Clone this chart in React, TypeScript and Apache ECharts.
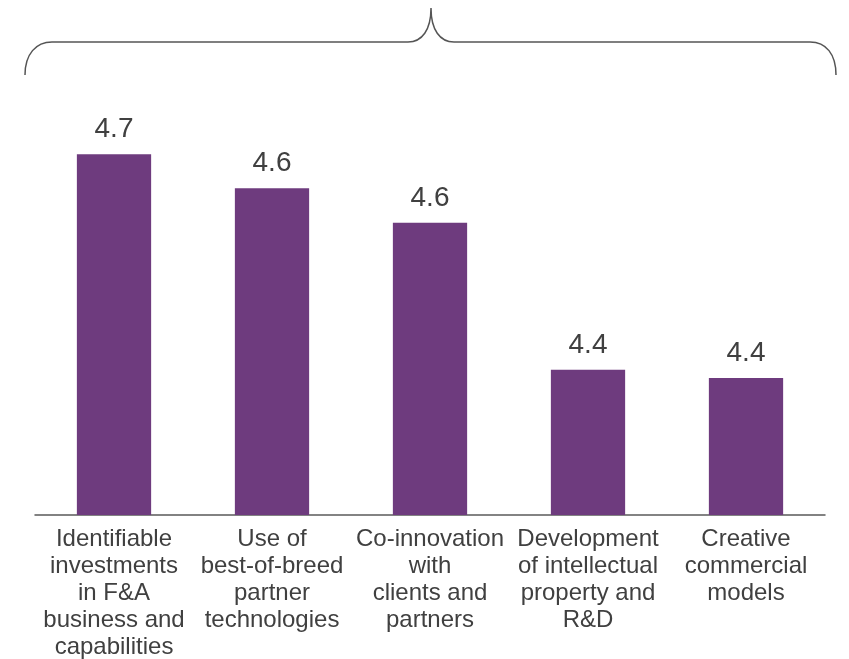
import React, { useEffect, useRef } from "react";
import * as echarts from "echarts";

const categories = [
  "Identifiable\ninvestments\nin F&A\nbusiness and\ncapabilities",
  "Use of\nbest-of-breed\npartner\ntechnologies",
  "Co-innovation\nwith\nclients and\npartners",
  "Development\nof intellectual\nproperty and\nR&D",
  "Creative\ncommercial\nmodels",
];
const values = [4.669, 4.625, 4.58, 4.389, 4.378];

const braceD =
  "M25,75 C25,54 36,42 52,42 L408,42 C422,42 431,30 431,8 C431,30 440,42 454,42 L810,42 C826,42 836,54 836,75";
echarts.graphic.registerShape("brace", (echarts.graphic as any).extendPath(braceD, {}));

export default function App() {
  const ref = useRef<HTMLDivElement>(null);
  useEffect(() => {
    if (!ref.current) return;
    const chart = echarts.init(ref.current, undefined, { renderer: "svg" });
    chart.setOption({
      animation: false,
      textStyle: { fontFamily: "Liberation Sans, Arial, sans-serif" },
      grid: { left: 35, right: 24, top: 92, bottom: 144, containLabel: false },
      xAxis: {
        type: "category",
        data: categories,
        axisLine: { lineStyle: { color: "#5a5a5a", width: 1.5 } },
        axisTick: { show: false },
        axisLabel: {
          interval: 0,
          fontSize: 24,
          lineHeight: 27,
          color: "#404040",
          margin: 9,
          fontFamily: "Liberation Sans, Arial, sans-serif",
        },
      },
      yAxis: { type: "value", min: 4.2, max: 4.75, show: false, splitLine: { show: false } },
      series: [
        {
          type: "bar",
          data: values,
          barWidth: "47%",
          itemStyle: { color: "#6E3B7E" },
          label: {
            show: true,
            position: "top",
            distance: 12.5,
            fontSize: 28,
            color: "#404040",
            fontFamily: "Liberation Sans, Arial, sans-serif",
            formatter: (p: any) => p.value.toFixed(1),
          },
        },
      ],
      graphic: [
        {
          type: "brace",
          x: 0,
          y: 0,
          style: { fill: "none", stroke: "#555555", lineWidth: 1.5 },
          silent: true,
        },
      ],
    });
    return () => chart.dispose();
  }, []);
  return (
    <div
      ref={ref}
      style={{ position: "fixed", left: 0, top: 0, width: 849, height: 659 }}
    />
  );
}
